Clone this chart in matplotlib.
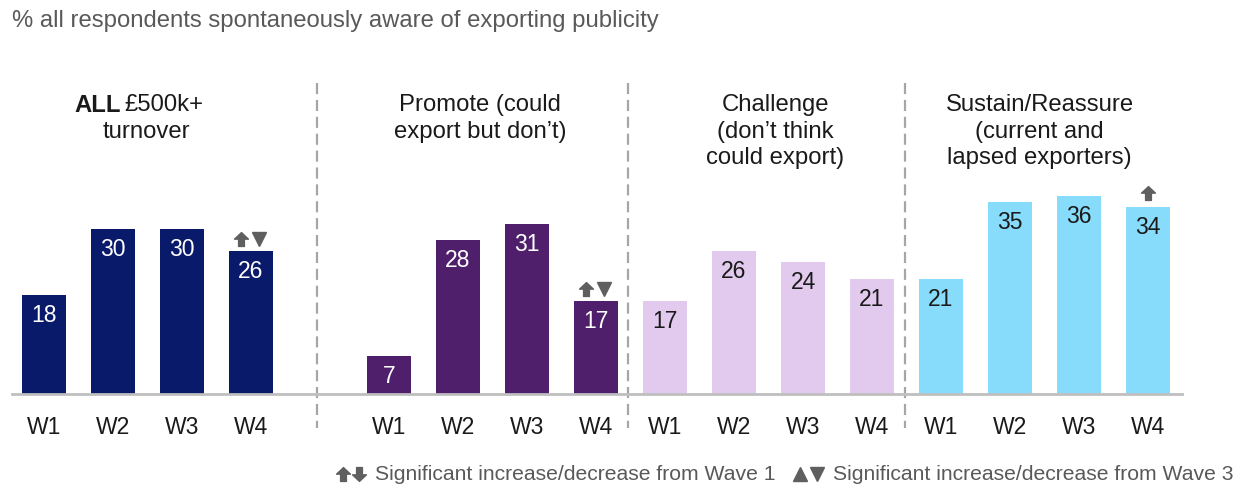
import matplotlib
matplotlib.use("Agg")
import matplotlib.pyplot as plt
from matplotlib.path import Path

plt.rcParams['font.family'] = ['Liberation Sans', 'DejaVu Sans']

# ---- data ----
waves = ["W1", "W2", "W3", "W4"]
segments = ["ALL £500k+\nturnover",
            "Promote (could\nexport but don\u2019t)",
            "Challenge\n(don\u2019t think\ncould export)",
            "Sustain/Reassure\n(current and\nlapsed exporters)"]
all_turnover = [18, 30, 30, 26]
promote = [7, 28, 31, 17]
challenge = [17, 26, 24, 21]
sustain = [21, 35, 36, 34]
series = [all_turnover, promote, challenge, sustain]
# significance flags on W4: (vs Wave 1, vs Wave 3); +1 increase, -1 decrease, 0 none
sig_w4 = [(1, -1), (1, -1), (0, 0), (1, 0)]

colors = ["#0a1a6a", "#4f1f6b", "#e2caef", "#88dcfb"]
label_colors = ["white", "white", "#1a1a1a", "#1a1a1a"]
group_starts = [0, 5, 9, 13]
title_x = [None, 6.32, 10.6, 14.43]
separators = [3.96, 8.46, 12.48]

W, H = 1237, 484
fig = plt.figure(figsize=(W / 100, H / 100), dpi=100)

x0_px, dx_px = 44, 69
left_px, right_px = 12, 1182
base_px, top_px = 394, 84
px_per_unit = 5.5
xlim = ((left_px - x0_px) / dx_px, (right_px - x0_px) / dx_px)
ylim = (0, (base_px - top_px) / px_per_unit)

ax = fig.add_axes([left_px / W, 1 - base_px / H,
                   (right_px - left_px) / W, (base_px - top_px) / H])
ax.set_xlim(*xlim)
ax.set_ylim(*ylim)
for s in ["top", "right", "left"]:
    ax.spines[s].set_visible(False)
ax.spines["bottom"].set_color("#bfbfbf")
ax.spines["bottom"].set_linewidth(2)
ax.set_yticks([])

arrow_up = Path([(0, 1), (-1, 0.05), (-0.42, 0.05), (-0.42, -1),
                 (0.42, -1), (0.42, 0.05), (1, 0.05), (0, 1)], closed=True)
arrow_down = Path([(x, -y) for x, y in arrow_up.vertices], closed=True)

tick_pos, tick_lab = [], []
for g, (vals, start) in enumerate(zip(series, group_starts)):
    xs = [start + i for i in range(len(vals))]
    ax.bar(xs, vals, width=0.65, color=colors[g], zorder=2)
    for x, v in zip(xs, vals):
        ax.annotate(str(v), (x, v), xytext=(0, -15), textcoords="offset points",
                    ha="center", va="center", fontsize=16.5, color=label_colors[g])
    tick_pos += xs
    tick_lab += waves
    # significance symbols above W4
    s1, s3 = sig_w4[g]
    xw4, v4 = xs[-1], vals[-1]
    ym = v4 + 12 / px_per_unit
    if s1 and s3:
        ax.plot(xw4 - 0.14, ym, marker=arrow_up if s1 > 0 else arrow_down,
                ms=10, color="#5f5f5f", clip_on=False)
        ax.plot(xw4 + 0.12, ym, marker="^" if s3 > 0 else "v",
                ms=10, color="#5f5f5f", clip_on=False)
    elif s1:
        ax.plot(xw4, ym + 0.4, marker=arrow_up if s1 > 0 else arrow_down,
                ms=10, color="#5f5f5f", clip_on=False)

ax.set_xticks(tick_pos)
ax.set_xticklabels(tick_lab, fontsize=16.5, color="#1a1a1a")
ax.tick_params(axis="x", length=0, pad=16)

for sx in separators:
    ax.plot([sx, sx], [ylim[1] + 0.2, -34 / px_per_unit], color="#a6a6a6",
            lw=1.6, ls=(0, (5, 2.6)), clip_on=False, zorder=1)

# group titles
tfs = 17.2
title_y = ylim[1] - 10 / px_per_unit
ax.text(1.12, title_y, "ALL", ha="right", va="top", fontsize=tfs,
        fontweight="bold", color="#1a1a1a")
ax.text(1.165, title_y, "£500k+", ha="left", va="top", fontsize=tfs, color="#1a1a1a")
ax.text(1.48, title_y - 27 / px_per_unit, "turnover", ha="center", va="top",
        fontsize=tfs, color="#1a1a1a")
for g in range(1, 4):
    ax.text(title_x[g], title_y, segments[g], ha="center", va="top",
            fontsize=tfs, color="#1a1a1a", linespacing=1.27)

fig.text(12 / W, 1 - 21 / H, "% all respondents spontaneously aware of exporting publicity",
         ha="left", va="center", fontsize=17.2, color="#595959")

# legend
ly = 1 - 474 / H
for xp, m in [(343, arrow_up), (359, arrow_down), (800, "^"), (817, "v")]:
    fig.add_artist(plt.Line2D([xp / W], [ly], marker=m, ms=10,
                              color="#5f5f5f", transform=fig.transFigure))
fig.text(375 / W, ly, "Significant increase/decrease from Wave 1", ha="left",
         va="center", fontsize=15.2, color="#595959")
fig.text(833 / W, ly, "Significant increase/decrease from Wave 3", ha="left",
         va="center", fontsize=15.2, color="#595959")

fig.savefig("out.png", dpi=100)
